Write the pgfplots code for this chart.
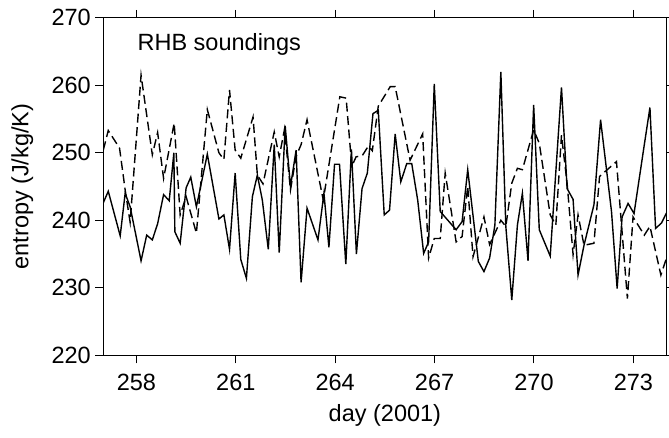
\documentclass[border=0pt]{standalone}
\usepackage{pgfplots}
\pgfplotsset{compat=1.18}
\usepackage{fontspec}
\setmainfont{Liberation Sans}
\begin{document}
\begin{tikzpicture}
\begin{axis}[
  width=563.2pt, height=337.5pt, scale only axis,
  xmin=257, xmax=274, ymin=220, ymax=270,
  xtick={258,261,264,267,270,273},
  ytick={220,230,240,250,260,270},
  tick align=outside,
  xtick pos=both, ytick pos=both,
  major tick length=8pt,
  axis line style={line width=1pt},
  every tick/.style={line width=1pt, black},
  font=\fontsize{23.5}{27}\selectfont,
  /pgf/number format/assume math mode=true,
  /pgf/number format/set thousands separator={},
  xticklabel style={yshift=-7pt},
  yticklabel style={xshift=-1pt},
  xlabel={day (2001)},
  ylabel={entropy (J/kg/K)},
  xlabel style={at={(axis description cs:0.5,-0.177)}, anchor=center},
  ylabel style={at={(axis description cs:-0.144,0.5)}, anchor=center},
  clip=true,
]
\addplot[black, line width=1.4pt] coordinates {
(257.00,242.6) (257.15,244.3) (257.51,237.7) (257.66,244.0) (257.81,242.0)
(258.14,234.0) (258.31,237.8) (258.48,237.1) (258.64,239.5) (258.82,243.8)
(258.99,242.9) (259.13,250.0) (259.16,238.3) (259.32,236.6) (259.50,244.8)
(259.64,246.4) (259.81,242.0) (260.14,249.8) (260.49,240.2) (260.64,240.8)
(260.81,235.7) (260.98,247.0) (261.15,234.2) (261.32,231.4) (261.50,243.5)
(261.65,246.7) (261.80,243.0) (261.98,235.7) (262.16,251.2) (262.31,235.2)
(262.49,254.0) (262.65,245.0) (262.82,250.4) (262.97,230.8) (263.15,241.8)
(263.48,237.1) (263.66,244.0) (263.81,236.0) (263.98,248.3) (264.13,248.3)
(264.32,233.5) (264.49,250.5) (264.64,235.0) (264.81,244.7) (264.97,247.0)
(265.14,255.8) (265.30,256.3) (265.48,240.8) (265.64,241.5) (265.81,252.8)
(265.98,245.7) (266.16,248.4) (266.31,248.4) (266.49,243.0) (266.67,235.1)
(266.82,236.8) (266.99,260.2) (267.17,241.3) (267.65,238.6) (267.83,239.8)
(268.00,247.5) (268.32,233.9) (268.49,232.4) (268.66,234.4) (268.82,239.3)
(269.00,262.0) (269.15,239.1) (269.33,228.2) (269.50,239.3) (269.65,244.0)
(269.82,234.0) (269.99,257.1) (270.16,238.6) (270.49,234.7) (270.83,259.7)
(271.00,244.7) (271.18,243.1) (271.33,231.9) (271.51,236.3) (271.81,242.3)
(272.01,254.9) (272.34,241.3) (272.51,229.9) (272.66,240.5) (272.84,242.5)
(273.02,241.0) (273.33,251.2) (273.50,256.7) (273.67,238.8) (273.85,239.6)
(274.00,241.1)
};
\addplot[black, line width=1.4pt, dash pattern=on 9pt off 4.5pt] coordinates {
(257.00,250.4) (257.15,253.3) (257.32,252.0) (257.49,250.7) (257.66,244.5)
(257.81,239.7) (258.14,261.5) (258.48,249.7) (258.64,253.0) (258.82,246.2)
(259.14,254.4) (259.32,240.8) (259.50,243.5) (259.81,238.1) (260.14,256.4)
(260.49,250.0) (260.64,249.0) (260.81,259.3) (260.98,250.4) (261.15,249.2)
(261.52,255.3) (261.65,246.7) (261.82,245.4) (262.16,253.1) (262.31,249.4)
(262.47,253.5) (262.65,244.5) (262.82,249.5) (262.97,251.2) (263.15,254.9)
(263.64,243.0) (264.14,258.3) (264.33,258.1) (264.50,248.0) (264.63,249.4)
(264.82,249.6) (265.00,251.0) (265.12,250.3) (265.30,256.9) (265.66,259.8)
(265.81,259.8) (266.26,248.9) (266.64,252.8) (266.82,234.4) (266.99,237.3)
(267.17,237.3) (267.32,247.0) (267.65,236.8) (267.83,237.6) (268.00,245.0)
(268.16,234.6) (268.49,240.5) (268.66,236.4) (269.00,240.0) (269.15,239.1)
(269.33,245.5) (269.50,247.7) (269.65,247.5) (269.99,253.4) (270.16,251.4)
(270.49,240.8) (270.66,239.3) (270.83,252.6) (271.00,245.5) (271.18,234.9)
(271.33,240.8) (271.51,236.3) (271.81,236.6) (271.98,246.5) (272.49,248.7)
(272.82,228.4) (272.99,240.5) (273.33,237.8) (273.50,239.1) (273.83,231.9)
(274.00,234.4)
};
\node[anchor=west, inner sep=0pt] at (axis cs:258.03,266) {RHB soundings};
\end{axis}
\pgfresetboundingbox
\path[use as bounding box] (-103.3pt,-82.7pt) rectangle (565.7pt,355.3pt);
\end{tikzpicture}
\end{document}
